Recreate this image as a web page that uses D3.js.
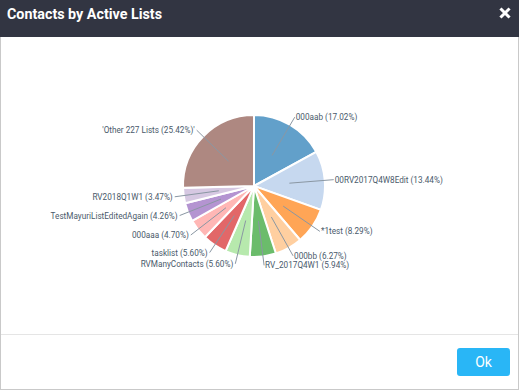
<!DOCTYPE html>
<html><head><meta charset="utf-8">
<script src="https://cdn.jsdelivr.net/npm/d3@7"></script>
<style>
html,body{margin:0;padding:0;background:#fff;}
svg{display:block;font-family:Roboto,"Open Sans",sans-serif;}
</style></head>
<body><svg id="c" width="519" height="390"></svg>
<script>
const title = "Contacts by Active Lists";
const categories = ["000aab","00RV2017Q4W8Edit","*1test","000bb","RV_2017Q4W1","RVManyContacts","tasklist","000aaa","TestMayuriListEditedAgain","RV2018Q1W1","'Other 227 Lists"];
const values = [17.02,13.44,8.29,6.27,5.94,5.60,5.60,4.70,4.26,3.47,25.42];
const colors = ["#1f77b4","#aec7e8","#ff7f0e","#ffbb78","#2ca02c","#98df8a","#d62728","#ff9896","#9467bd","#c5b0d5","#8c564b"];
const buttonLabel = "Ok";

const W = 519, H = 390;
const svg = d3.select("#c");

// dialog frame
svg.append("rect").attr("x",0).attr("y",0).attr("width",W).attr("height",H).attr("fill","#c9c9c9");
svg.append("rect").attr("x",1).attr("y",0).attr("width",W-2).attr("height",H-1).attr("fill","#fff");
svg.append("rect").attr("x",0).attr("y",0).attr("width",W).attr("height",37).attr("fill","#323542");
svg.append("text").attr("x",7).attr("y",19).attr("fill","#fff").attr("font-size",14.3).attr("font-weight","bold").text(title);
// close icon
const cx = 505, cy = 13;
svg.append("path").attr("d",`M${cx-3.5},${cy-3.5}L${cx+3.5},${cy+3.5}M${cx+3.5},${cy-3.5}L${cx-3.5},${cy+3.5}`)
  .attr("stroke","#fff").attr("stroke-width",3).attr("stroke-linecap","square");
// footer
svg.append("line").attr("x1",1).attr("x2",W-1).attr("y1",334.5).attr("y2",334.5).attr("stroke","#e5e5e5");
svg.append("rect").attr("x",457).attr("y",348).attr("width",53).attr("height",28).attr("rx",3).attr("fill","#29b6f6");
svg.append("text").attr("x",483.5).attr("y",367).attr("text-anchor","middle").attr("fill","#fff").attr("font-size",14).text(buttonLabel);

// pie
const data = categories.map((c,i)=>({name:c, value:values[i], color:colors[i]}));
const R = 71, RL = 80;
const g = svg.append("g").attr("transform","translate(254,186)");
const pie = d3.pie().sort(null).value(d=>d.value);
const arcs = pie(data);
const arc = d3.arc().innerRadius(0).outerRadius(R);
const labelArc = d3.arc().innerRadius(RL).outerRadius(RL);
g.selectAll("path.s").data(arcs).join("path").attr("class","s")
  .attr("d",arc).attr("fill",d=>d.data.color).attr("fill-opacity",0.7)
  .attr("stroke","#fff").attr("stroke-width",2);
g.selectAll("line.l").data(arcs).join("line").attr("class","l")
  .attr("x1",d=>arc.centroid(d)[0]).attr("y1",d=>arc.centroid(d)[1])
  .attr("x2",d=>labelArc.centroid(d)[0]).attr("y2",d=>labelArc.centroid(d)[1])
  .attr("stroke","#8a97a3").attr("stroke-width",1);
const fmt = d3.format(".2f");
g.selectAll("text.t").data(arcs).join("text").attr("class","t")
  .each(function(d){
    const [x,y] = labelArc.centroid(d);
    const mid = (d.startAngle+d.endAngle)/2;
    const right = mid < Math.PI;
    const last = d.data.name.startsWith("'");
    d3.select(this).attr("x", x + (right?1:-2)).attr("y", y+3)
      .attr("text-anchor", right?"start":"end")
      .text(`${d.data.name} (${fmt(d.data.value)}%)${last?"'":""}`);
  })
  .attr("font-size",8.2).attr("fill","#4a5a6b");
</script></body></html>
